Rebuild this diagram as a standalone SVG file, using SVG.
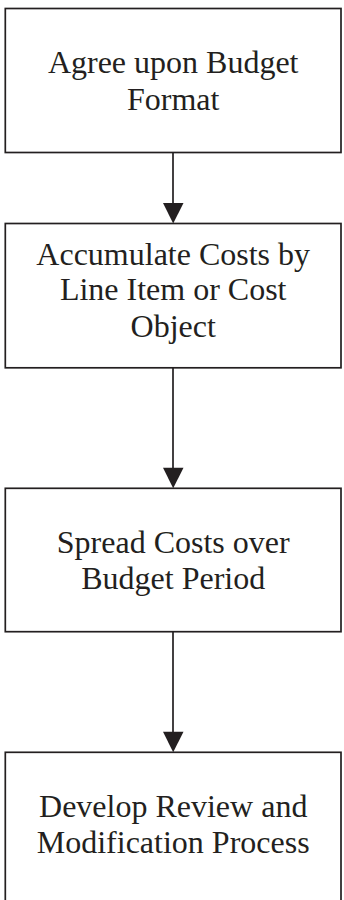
<svg xmlns="http://www.w3.org/2000/svg" width="344" height="900" viewBox="0 0 344 900">
<style>
.box{fill:#fff;stroke:#231f20;stroke-width:1.7}
.lbl{font-family:"Liberation Serif","Times New Roman",serif;font-size:32px;fill:#231f20;text-anchor:middle}
.edge{stroke:#231f20;stroke-width:1.7;fill:none}
.head{fill:#231f20}
</style>
<rect width="344" height="900" fill="#fff"/>
<g id="n1">
<rect class="box" x="5.3" y="8.5" width="335.7" height="144"/>
<text class="lbl" x="173.2" y="73.3">Agree upon Budget</text>
<text class="lbl" x="173.2" y="110">Format</text>
</g>
<g id="n2">
<rect class="box" x="5.3" y="223.5" width="335.7" height="144.3"/>
<text class="lbl" x="173.2" y="264.5">Accumulate Costs by</text>
<text class="lbl" x="173.2" y="300">Line Item or Cost</text>
<text class="lbl" x="173.2" y="336.5">Object</text>
</g>
<g id="n3">
<rect class="box" x="5.3" y="488.3" width="335.7" height="143.4"/>
<text class="lbl" x="173.2" y="553.3">Spread Costs over</text>
<text class="lbl" x="173.2" y="589.3">Budget Period</text>
</g>
<g id="n4">
<rect class="box" x="5.3" y="752.3" width="335.7" height="160"/>
<text class="lbl" x="173.2" y="816.5">Develop Review and</text>
<text class="lbl" x="173.2" y="853.3">Modification Process</text>
</g>
<g id="connectors">
<line class="edge" x1="173" y1="152.5" x2="173" y2="205"/>
<polygon class="head" points="163,203 183.5,203 173.2,223.5"/>
<line class="edge" x1="173" y1="367.8" x2="173" y2="470"/>
<polygon class="head" points="163,467.8 183.5,467.8 173.2,488.3"/>
<line class="edge" x1="173" y1="631.7" x2="173" y2="734"/>
<polygon class="head" points="163,731.8 183.5,731.8 173.2,752.3"/>
</g>
</svg>
